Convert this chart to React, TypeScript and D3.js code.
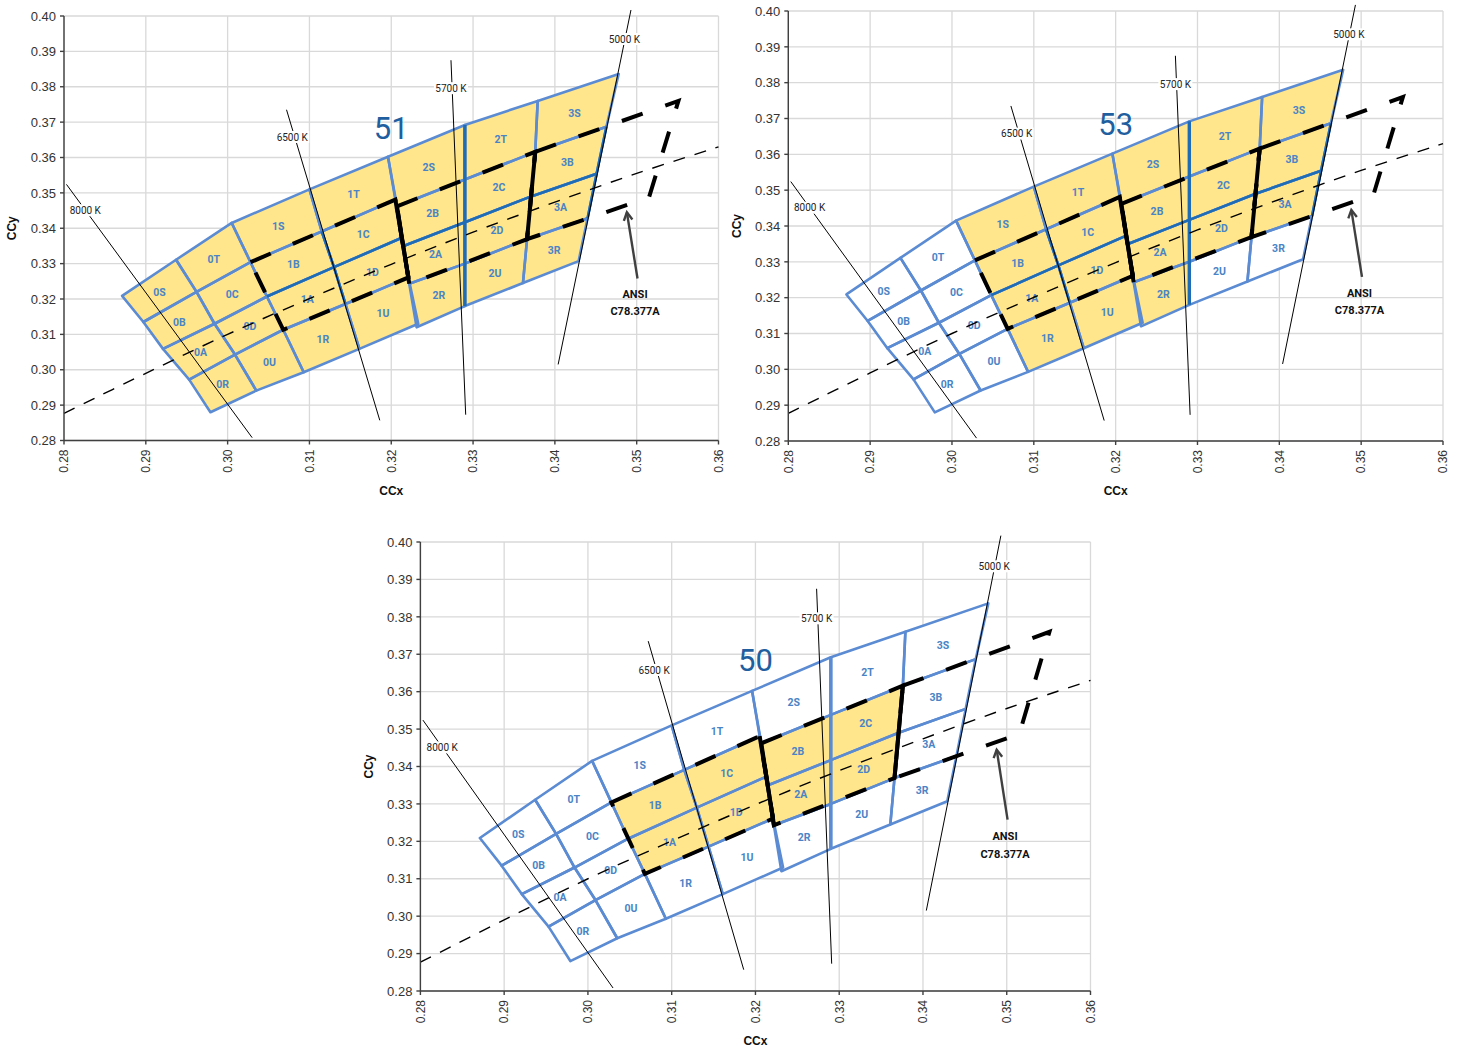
import React from "react";
import * as d3 from "d3";

// axis ticks
const xTicks = [0.28, 0.29, 0.3, 0.31, 0.32, 0.33, 0.34, 0.35, 0.36];
const yTicks = [0.28, 0.29, 0.3, 0.31, 0.32, 0.33, 0.34, 0.35, 0.36, 0.37, 0.38, 0.39, 0.4];

// bin grid: each edge runs top (h0) to bottom (h4), [x, y]
const edge0 = [[0.2871, 0.3209], [0.2897, 0.3135], [0.2921, 0.3059], [0.2953, 0.2972], [0.2979, 0.288]];
const edge1 = [[0.2937, 0.3311], [0.2962, 0.322], [0.2984, 0.313], [0.3009, 0.3043], [0.3035, 0.2941]];
const edge2 = [[0.3005, 0.3415], [0.3028, 0.3304], [0.3048, 0.3207], [0.3068, 0.3113], [0.3093, 0.2993]];
const edge3 = [[0.31, 0.351], [0.3115, 0.3391], [0.313, 0.329], [0.3144, 0.3186], [0.3161, 0.3059]];
const edge4a = [[0.3196, 0.3602], [0.3205, 0.3481], [0.3213, 0.3373], [0.3221, 0.3261], [0.3233, 0.313]];
const edge4b = [[0.3196, 0.3602], [0.3207, 0.3462], [0.3215, 0.335], [0.3222, 0.3243], [0.3231, 0.312]];
const edge5 = [[0.329, 0.3692], [0.329, 0.3538], [0.329, 0.3417], [0.329, 0.33], [0.329, 0.318]];
const edge6 = [[0.3379, 0.376], [0.3376, 0.3616], [0.3371, 0.349], [0.3366, 0.3369], [0.3361, 0.3245]];
const edge7 = [[0.3478, 0.3836], [0.3463, 0.3687], [0.3451, 0.3554], [0.344, 0.3428], [0.3429, 0.3307]];

const leftCol = ["S", "B", "A", "R"];
const rightCol = ["T", "C", "D", "U"];

const groups = [
  { name: "0", edges: [edge0, edge1, edge2], cols: [leftCol, rightCol] },
  { name: "1", edges: [edge2, edge3, edge4a], cols: [leftCol, rightCol] },
  { name: "2", edges: [edge4b, edge5, edge6], cols: [leftCol, rightCol] },
  { name: "3", edges: [edge6, edge7], cols: [leftCol] },
];

// ANSI C78.377A quadrangles
const ansi6500 = [[0.3028, 0.3304], [0.3205, 0.3481], [0.3221, 0.3261], [0.3068, 0.3113]];
const ansi5700 = [[0.3207, 0.3462], [0.3376, 0.3616], [0.3366, 0.3369], [0.3222, 0.3243]];
const ansi5000 = [[0.3376, 0.3616], [0.3551, 0.376], [0.3515, 0.3487], [0.3366, 0.3369]];

// planckian locus
const locusX = [0.28, 0.29, 0.3, 0.31, 0.32, 0.33, 0.34, 0.35, 0.36];
const locusY = [0.2877, 0.299, 0.31, 0.3201, 0.3298, 0.3389, 0.3474, 0.3555, 0.363];

// isotemperature lines
const cctNames = ["8000 K", "6500 K", "5700 K", "5000 K"];
const cctStart = [[0.2803, 0.3524], [0.3072, 0.3735], [0.3273, 0.3875], [0.3493, 0.4017]];
const cctEnd = [[0.303, 0.2808], [0.3186, 0.2857], [0.3291, 0.2873], [0.3404, 0.3015]];
const cctLabelPos = [[0.2826, 0.3451], [0.3079, 0.3658], [0.3273, 0.3796], [0.3485, 0.3935]];

// which bins are shaded in each chart
const allBins = groups.flatMap((g) => g.cols.flatMap((c) => c.map((s) => g.name + s)));
const filled53 = ["1S", "1T", "1B", "1C", "1A", "1D", "1R", "1U", "2S", "2T", "2B", "2C", "2A", "2D", "2R", "3S", "3B", "3A"];
const filled50 = ["1B", "1C", "1A", "1D", "2B", "2C", "2A", "2D"];

const panels = [
  { title: "51", x0: 64, x1: 718.5, y0: 16, y1: 440.5, filled: allBins, dark: true },
  { title: "53", x0: 788.3, x1: 1443, y0: 11, y1: 441, filled: filled53, dark: true },
  { title: "50", x0: 420.4, x1: 1090.5, y0: 542, y1: 991, filled: filled50, dark: false },
];

const BLUE = "#5b8bd2";
const DARK = "#1f6cb6";
const YELLOW = "#ffe58b";
const LABEL = "#4a84c6";
const FONT = "Roboto, 'Liberation Sans', Arial, sans-serif";
const AXFONT = "'Liberation Sans', Arial, sans-serif";

type P = number[];

const Panel = ({ cfg }: { cfg: any }) => {
  const x = d3.scaleLinear().domain([0.28, 0.36]).range([cfg.x0, cfg.x1]);
  const y = d3.scaleLinear().domain([0.28, 0.4]).range([cfg.y1, cfg.y0]);
  const line = d3.line<P>().x((d) => x(d[0])).y((d) => y(d[1]));
  const poly = (pts: P[]) => line(pts) + "Z";

  const cells: any[] = [];
  groups.forEach((g) => {
    g.cols.forEach((col, c) => {
      const L = g.edges[c];
      const R = g.edges[c + 1];
      col.forEach((s, r) => {
        const pts = [L[r], R[r], R[r + 1], L[r + 1]];
        const cx = d3.mean(pts, (p) => p[0]) as number;
        const cy = d3.mean(pts, (p) => p[1]) as number;
        cells.push({ name: g.name + s, pts, cx, cy });
      });
    });
  });

  // darker center lines of the ANSI quads
  const darkLines: P[][] = [
    [edge2[2], edge3[2], edge4a[2]],
    [edge4b[2], edge5[2], edge6[2], edge7[2]],
    [edge3[1], edge3[2], edge3[3]],
    [edge7[1], edge7[2], edge7[3]],
  ];

  const locus = d3
    .line<number>()
    .x((d, i) => x(locusX[i]))
    .y((d) => y(d))
    .curve(d3.curveCatmullRom)(locusY);

  const ansiDash = "22,24";
  const arrowTail = [0.3501, 0.3258];
  const arrowHead = [0.3488, 0.3445];
  const ang = Math.atan2(y(arrowHead[1]) - y(arrowTail[1]), x(arrowHead[0]) - x(arrowTail[0]));
  const hx = x(arrowHead[0]);
  const hy = y(arrowHead[1]);
  const ah = 9;

  return (
    <g>
      {/* gridlines */}
      {xTicks.map((t) => (
        <line key={"gx" + t} x1={x(t)} x2={x(t)} y1={cfg.y0} y2={cfg.y1} stroke="#d9d9d9" strokeWidth={1.3} />
      ))}
      {yTicks.map((t) => (
        <line key={"gy" + t} x1={cfg.x0} x2={cfg.x1} y1={y(t)} y2={y(t)} stroke="#d9d9d9" strokeWidth={1.3} />
      ))}

      {/* bins */}
      {cells.map((c) => (
        <path key={"f" + c.name} d={poly(c.pts)} fill={cfg.filled.includes(c.name) ? YELLOW : "#ffffff"} />
      ))}
      {cells.map((c) => (
        <path key={"s" + c.name} d={poly(c.pts)} fill="none" stroke={BLUE} strokeWidth={2.6} strokeLinejoin="round" />
      ))}
      <path d={line(edge5) as string} fill="none" stroke={cfg.dark ? DARK : BLUE} strokeWidth={3.4} />
      {cfg.dark &&
        darkLines.map((l, i) => (
          <path key={"d" + i} d={line(l) as string} fill="none" stroke={DARK} strokeWidth={2.6} />
        ))}
      {cells.map((c) => (
        <text
          key={"t" + c.name}
          x={x(c.cx)}
          y={y(c.cy)}
          dy="0.38em"
          textAnchor="middle"
          fontFamily={FONT}
          fontWeight="bold"
          fontSize={10.5}
          fill={LABEL}
        >
          {c.name}
        </text>
      ))}

      {/* planckian locus */}
      <path d={locus as string} fill="none" stroke="#000" strokeWidth={1.4} strokeDasharray="12,10" />

      {/* isotemperature lines */}
      {cctNames.map((n, i) => (
        <line
          key={"c" + n}
          x1={x(cctStart[i][0])}
          y1={y(cctStart[i][1])}
          x2={x(cctEnd[i][0])}
          y2={y(cctEnd[i][1])}
          stroke="#000"
          strokeWidth={1}
        />
      ))}
      {cctNames.map((n, i) => (
        <g key={"cl" + n}>
          <rect x={x(cctLabelPos[i][0]) - 17} y={y(cctLabelPos[i][1]) - 6} width={34} height={12} fill="#fff" />
          <text
            x={x(cctLabelPos[i][0])}
            y={y(cctLabelPos[i][1])}
            dy="0.36em"
            textAnchor="middle"
            fontFamily={FONT}
            fontSize={10}
            fill="#222"
          >
            {n}
          </text>
        </g>
      ))}

      {/* ANSI quadrangles */}
      {[ansi6500, ansi5700, ansi5000].map((q, i) => (
        <path key={"q" + i} d={poly(q)} fill="none" stroke="#000" strokeWidth={4} strokeDasharray={ansiDash} />
      ))}
      <path d={line([ansi6500[1], ansi6500[2]]) as string} stroke="#000" strokeWidth={4} fill="none" />
      <path d={line([ansi5700[0], ansi5700[3]]) as string} stroke="#000" strokeWidth={4} fill="none" />
      <path d={line([ansi5700[1], ansi5700[2]]) as string} stroke="#000" strokeWidth={4} fill="none" />

      {/* ANSI annotation */}
      <line x1={x(arrowTail[0])} y1={y(arrowTail[1])} x2={hx} y2={hy} stroke="#404040" strokeWidth={2.4} />
      <path
        d={`M${hx - ah * Math.cos(ang - 0.5)},${hy - ah * Math.sin(ang - 0.5)}L${hx},${hy}L${hx - ah * Math.cos(ang + 0.5)},${hy - ah * Math.sin(ang + 0.5)}`}
        fill="none"
        stroke="#404040"
        strokeWidth={2.4}
      />
      <text x={x(0.3498)} y={y(0.3214)} dy="0.36em" textAnchor="middle" fontFamily={FONT} fontWeight="bold" fontSize={11} fill="#111">
        ANSI
      </text>
      <text x={x(0.3498)} y={y(0.3166)} dy="0.36em" textAnchor="middle" fontFamily={FONT} fontWeight="bold" fontSize={11} fill="#111">
        C78.377A
      </text>

      {/* chart number */}
      <text x={x(0.32)} y={y(0.3685)} dy="0.36em" textAnchor="middle" fontFamily={FONT} fontSize={31} fill="#1f5f9f">
        {cfg.title}
      </text>

      {/* axes */}
      <line x1={cfg.x0} x2={cfg.x0} y1={cfg.y0} y2={cfg.y1} stroke="#404040" strokeWidth={1.4} />
      <line x1={cfg.x0} x2={cfg.x1} y1={cfg.y1} y2={cfg.y1} stroke="#404040" strokeWidth={1.4} />
      {yTicks.map((t) => (
        <g key={"ty" + t}>
          <line x1={cfg.x0 - 4} x2={cfg.x0} y1={y(t)} y2={y(t)} stroke="#404040" strokeWidth={1.4} />
          <text x={cfg.x0 - 8} y={y(t)} dy="0.36em" textAnchor="end" fontFamily={AXFONT} fontSize={13} fill="#333">
            {t.toFixed(2)}
          </text>
        </g>
      ))}
      {xTicks.map((t) => (
        <g key={"tx" + t}>
          <line x1={x(t)} x2={x(t)} y1={cfg.y1} y2={cfg.y1 + 4} stroke="#404040" strokeWidth={1.4} />
          <text
            transform={`translate(${x(t)},${cfg.y1 + 9}) rotate(-90)`}
            dy="0.36em"
            textAnchor="end"
            fontFamily={AXFONT}
            fontSize={12}
            fill="#333"
          >
            {t.toFixed(2)}
          </text>
        </g>
      ))}
      <text x={(cfg.x0 + cfg.x1) / 2} y={cfg.y1 + 54} textAnchor="middle" fontFamily={AXFONT} fontWeight="bold" fontSize={12} fill="#111">
        CCx
      </text>
      <text
        transform={`translate(${cfg.x0 - 52},${(cfg.y0 + cfg.y1) / 2}) rotate(-90)`}
        dy="0.36em"
        textAnchor="middle"
        fontFamily={AXFONT}
        fontWeight="bold"
        fontSize={12}
        fill="#111"
      >
        CCy
      </text>
    </g>
  );
};

export default function App() {
  return (
    <svg width={1461} height={1053} style={{ position: "absolute", left: 0, top: 0, background: "#fff" }}>
      <rect width={1461} height={1053} fill="#fff" />
      {panels.map((p) => (
        <Panel key={p.title} cfg={p} />
      ))}
    </svg>
  );
}
